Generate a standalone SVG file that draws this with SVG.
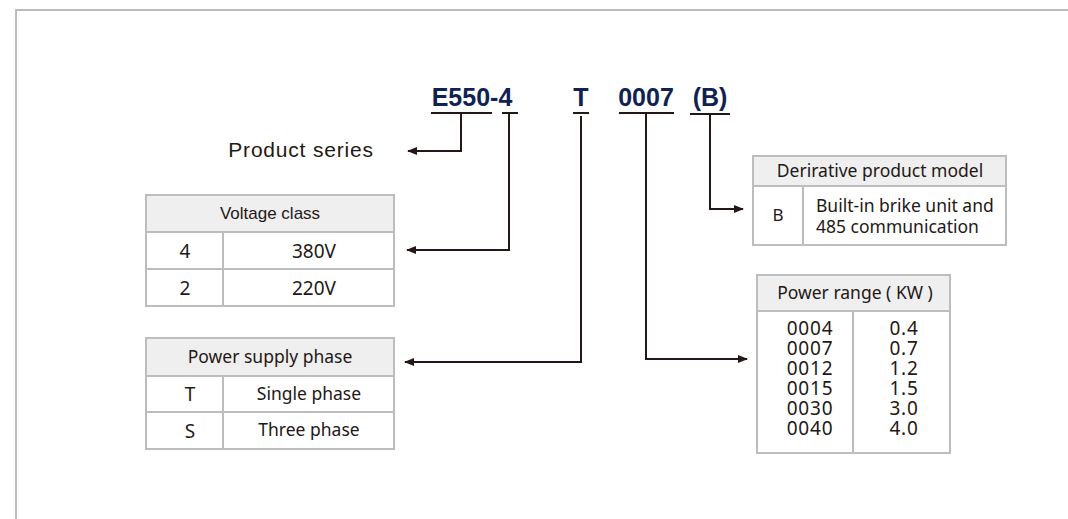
<svg xmlns="http://www.w3.org/2000/svg" width="1068" height="519" viewBox="0 0 1068 519">
<defs>
<marker id="ah" viewBox="0 0 10 8" refX="9" refY="4" markerWidth="10" markerHeight="8" markerUnits="userSpaceOnUse" orient="auto">
<path d="M0,0 L10,4 L0,8 z" fill="#231815"/>
</marker>
<style>
.frame{fill:none;stroke:#bcbcbc;stroke-width:2}
.cell{fill:#fff;stroke:#bdbdbd;stroke-width:2}
.head{fill:#efefef;stroke:#bdbdbd;stroke-width:2}
.div{stroke:#bdbdbd;stroke-width:2}
.title{font-family:"Liberation Sans",Arial,sans-serif;font-weight:bold;font-size:25px;fill:#0f2252;text-anchor:middle}
.ul{stroke:#231815;stroke-width:2}
.conn{fill:none;stroke:#231815;stroke-width:2;marker-end:url(#ah)}
.ar{font-family:"Liberation Sans",Arial,sans-serif;fill:#231815;text-anchor:middle}
.ns{font-family:"Noto Sans","Open Sans",sans-serif;fill:#231815;text-anchor:middle}
.st{text-anchor:start}
</style>
</defs>
<rect width="1068" height="519" fill="#fff"/>
<path class="frame" d="M16,519 V10 H1068"/>

<g id="code">
<text class="title" x="472" y="106">E550-4</text>
<text class="title" x="581" y="106">T</text>
<text class="title" x="646" y="106">0007</text>
<text class="title" x="710" y="106">(B)</text>
<line class="ul" x1="431" y1="113" x2="492" y2="113"/>
<line class="ul" x1="502" y1="113" x2="518" y2="113"/>
<line class="ul" x1="573" y1="113" x2="589" y2="113"/>
<line class="ul" x1="619" y1="113" x2="674" y2="113"/>
<line class="ul" x1="690" y1="114" x2="730" y2="114"/>
</g>

<g id="connectors">
<path class="conn" d="M461,113 V151 H408"/>
<path class="conn" d="M509,113 V250 H407"/>
<path class="conn" d="M581,116 V362 H405"/>
<path class="conn" d="M646,113 V359 H747"/>
<path class="conn" d="M710,114 V209 H743"/>
</g>

<g id="product-series">
<text class="ar" x="301" y="157" font-size="21" letter-spacing="0.8">Product series</text>
</g>

<g id="voltage-class">
<rect class="head" x="146" y="195" width="248" height="37"/>
<rect class="cell" x="146" y="232" width="248" height="74"/>
<line class="div" x1="146" y1="269" x2="394" y2="269"/>
<line class="div" x1="223" y1="232" x2="223" y2="306"/>
<text class="ar" x="270" y="219" font-size="17">Voltage class</text>
<text class="ns" x="185" y="258" font-size="19">4</text>
<text class="ns" x="314" y="258" font-size="19">380V</text>
<text class="ns" x="185" y="295" font-size="19">2</text>
<text class="ns" x="314" y="295" font-size="19">220V</text>
</g>

<g id="power-supply-phase">
<rect class="head" x="146" y="338" width="248" height="38"/>
<rect class="cell" x="146" y="376" width="248" height="73"/>
<line class="div" x1="146" y1="412" x2="394" y2="412"/>
<line class="div" x1="223" y1="376" x2="223" y2="449"/>
<text class="ns" x="270" y="363" font-size="17.5">Power supply phase</text>
<text class="ns" x="190" y="401" font-size="19">T</text>
<text class="ns" x="309" y="400" font-size="17.5">Single phase</text>
<text class="ns" x="190" y="438" font-size="19">S</text>
<text class="ns" x="309" y="436" font-size="17.5">Three phase</text>
</g>

<g id="derivative-model">
<rect class="head" x="753" y="156" width="253" height="30"/>
<rect class="cell" x="753" y="186" width="253" height="59"/>
<line class="div" x1="803" y1="186" x2="803" y2="245"/>
<text class="ns" x="880" y="177" font-size="17.5">Derirative product model</text>
<text class="ns" x="778" y="221" font-size="17">B</text>
<text class="ns st" x="816" y="212" font-size="17.5"><tspan x="816" y="212">Built-in brike unit and</tspan><tspan x="816" y="233">485 communication</tspan></text>
</g>

<g id="power-range">
<rect class="head" x="757" y="275" width="193" height="36"/>
<rect class="cell" x="757" y="311" width="193" height="142"/>
<line class="div" x1="853" y1="311" x2="853" y2="453"/>
<text class="ns" x="855" y="299" font-size="17.5">Power range ( KW )</text>
<text class="ns" font-size="19" letter-spacing="0.8"><tspan x="810" y="335">0004</tspan><tspan x="810" y="355">0007</tspan><tspan x="810" y="375">0012</tspan><tspan x="810" y="395">0015</tspan><tspan x="810" y="415">0030</tspan><tspan x="810" y="435">0040</tspan></text>
<text class="ns" font-size="19" letter-spacing="0.8"><tspan x="904" y="335">0.4</tspan><tspan x="904" y="355">0.7</tspan><tspan x="904" y="375">1.2</tspan><tspan x="904" y="395">1.5</tspan><tspan x="904" y="415">3.0</tspan><tspan x="904" y="435">4.0</tspan></text>
</g>
</svg>
